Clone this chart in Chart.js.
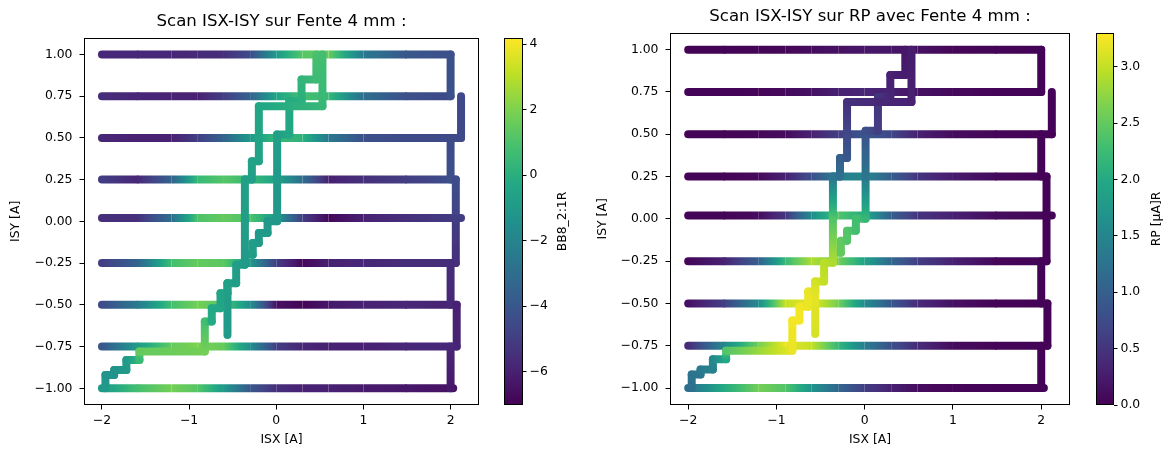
<!DOCTYPE html>
<html lang="fr">
<head>
<meta charset="UTF-8">
<title>Scan ISX-ISY</title>
<script src="https://cdn.jsdelivr.net/npm/chart.js@4.4.1/dist/chart.umd.min.js"></script>
<style>
  body { margin: 0; background: white; }
  #wrap { position: relative; width: 1166px; height: 450px; }
  .c { position: absolute; top: 0; height: 450px; }
</style>
</head>
<body>
<div id="wrap">
  <div class="c" style="left:0;width:484px"><canvas id="scan1"></canvas></div>
  <div class="c" style="left:480px;width:110px"><canvas id="cbar1"></canvas></div>
  <div class="c" style="left:590px;width:485px"><canvas id="scan2"></canvas></div>
  <div class="c" style="left:1073px;width:93px"><canvas id="cbar2"></canvas></div>
</div>
<script>
// scan rows (ISY levels), sampled along ISX
const rowY = [-1.0, -0.75, -0.5, -0.25, 0.02, 0.25, 0.5, 0.75, 1.0];
const rowX = [-2.0, -1.6, -1.2, -0.9, -0.6, -0.3, 0.0, 0.3, 0.6, 1.0, 1.5];
const rowEnd = [2.03, 2.07, 2.07, 2.06, 2.12, 2.06, 2.12, 2.0, 2.0];

const bb8Rows = [
  [-1.0, 0.8, 1.8, 1.2, -1.0, -4.0, -5.5, -6.0, -6.0, -6.2, -6.3, -6.5],
  [-4.0, -1.0, 1.5, 2.0, 1.5, -1.5, -5.0, -5.8, -6.0, -6.0, -5.8, -5.8],
  [-4.5, -2.5, 0.8, 1.8, 1.2, -1.5, -6.5, -6.9, -6.3, -6.0, -5.8, -6.0],
  [-5.0, -3.5, 0.8, 1.5, 1.3, -1.0, -5.0, -6.8, -6.0, -5.8, -5.6, -5.6],
  [-5.5, -5.5, -3.0, 1.0, 1.5, 1.0, -1.0, -5.0, -6.8, -6.0, -5.5, -5.0],
  [-5.0, -5.8, -3.5, 0.5, 1.2, 0.5, -0.5, -3.0, -6.0, -5.5, -5.0, -4.3],
  [-5.8, -6.0, -6.0, -5.0, -3.5, -1.0, 0.5, 0.2, -2.5, -4.3, -4.5, -4.5],
  [-5.6, -5.8, -5.9, -6.0, -5.0, -3.5, -0.5, 0.8, 0.5, -3.0, -4.3, -4.5],
  [-5.8, -5.8, -5.8, -5.7, -5.5, -4.5, -1.0, 1.2, 1.6, -2.5, -4.0, -4.3]
];
const rpRows = [
  [1.2, 2.0, 2.6, 2.4, 1.7, 1.1, 0.6, 0.3, 0.1, 0.05, 0.02, 0.02],
  [0.4, 1.5, 2.6, 3.2, 3.0, 2.2, 1.4, 0.8, 0.4, 0.1, 0.03, 0.02],
  [0.15, 0.6, 1.6, 3.0, 3.2, 2.6, 1.6, 0.9, 0.4, 0.15, 0.03, 0.02],
  [0.05, 0.3, 1.0, 2.2, 2.9, 2.6, 1.9, 1.1, 0.6, 0.3, 0.05, 0.02],
  [0.03, 0.03, 0.1, 0.5, 1.6, 2.4, 2.0, 1.0, 0.5, 0.3, 0.1, 0.05],
  [0.03, 0.03, 0.08, 0.3, 0.8, 1.4, 1.5, 1.0, 0.5, 0.25, 0.08, 0.03],
  [0.03, 0.03, 0.05, 0.1, 0.3, 0.6, 0.9, 0.7, 0.3, 0.1, 0.05, 0.03],
  [0.03, 0.03, 0.05, 0.08, 0.15, 0.3, 0.35, 0.3, 0.15, 0.08, 0.03, 0.03],
  [0.02, 0.02, 0.03, 0.05, 0.1, 0.15, 0.2, 0.2, 0.15, 0.05, 0.03, 0.02]
];

// right-hand steps between rows i and i+1
const edgeX = [2.0, 2.07, 2.0, 2.06, 2.06, 2.0, 2.12, 2.0];
const bb8EdgeLo = [-6.3, -5.9, -5.8, -5.5, -4.8, -4.3, -4.5, -4.3];
const bb8EdgeHi = [-5.8, -6.0, -5.6, -5.0, -4.4, -4.5, -4.6, -4.3];
const rpEdgeLo = [0.02, 0.02, 0.02, 0.02, 0.02, 0.02, 0.02, 0.02];
const rpEdgeHi = [0.02, 0.02, 0.02, 0.02, 0.02, 0.02, 0.02, 0.02];

// staircase through the middle
const stairX = [-1.96, -1.96, -1.86, -1.86, -1.72, -1.72, -1.57, -1.57, -0.82, -0.82, -0.74, -0.74, -0.64, -0.64,
  -0.56, -0.56, -0.46, -0.46, -0.36, -0.36, -0.36, -0.28, -0.28, -0.2, -0.2, 0.53, 0.53];
const stairY = [-1.0, -0.92, -0.92, -0.89, -0.89, -0.83, -0.83, -0.78, -0.78, -0.6, -0.6, -0.52, -0.52, -0.43,
  -0.43, -0.37, -0.37, -0.26, -0.26, 0.0, 0.25, 0.25, 0.36, 0.36, 0.69, 0.69, 1.0];
const bb8Stair = [-1.0, -1.2, -1.3, -1.3, -1.0, -1.0, 0.5, 1.5, 1.8, 0.8, -0.2, -0.3, -0.4, -0.5,
  -0.7, -0.7, -0.8, -0.8, -1.0, -0.8, -0.7, -0.7, -0.6, -0.6, -0.4, 0.4, 0.8];
const rpStair = [1.2, 1.25, 1.3, 1.35, 1.45, 1.55, 2.0, 2.4, 3.2, 3.25, 3.25, 3.25, 3.2, 3.2,
  3.15, 3.1, 3.0, 2.95, 2.9, 2.4, 1.3, 1.2, 1.0, 0.9, 0.45, 0.3, 0.25];

const spurX = [-0.56, -0.56];
const spurY = [-0.68, -0.37];
const bb8Spur = [-1.0, -0.8];
const rpSpur = [3.1, 3.2];

const tailX = [-0.36, -0.27, -0.27, -0.2, -0.2, -0.1, -0.1, 0.01, 0.01, 0.01, 0.15, 0.15, 0.29, 0.29, 0.46, 0.46];
const tailY = [-0.2, -0.2, -0.13, -0.13, -0.07, -0.07, 0.0, 0.0, 0.25, 0.52, 0.52, 0.72, 0.72, 0.85, 0.85, 1.0];
const bb8Tail = [-0.8, -0.8, -0.9, -0.9, -1.0, -1.0, -1.1, -1.1, -1.0, -0.7, -0.4, -0.2, 0.0, 0.3, 0.6, 0.9];
const rpTail = [2.6, 2.5, 2.5, 2.4, 2.4, 2.3, 2.3, 2.2, 1.3, 0.8, 0.6, 0.5, 0.35, 0.3, 0.25, 0.2];

const xTicks = [-2, -1, 0, 1, 2];
const yTicks = [-1, -0.75, -0.5, -0.25, 0, 0.25, 0.5, 0.75, 1];
const bb8Ticks = [-6, -4, -2, 0, 2, 4];
const rpTicks = [0, 0.5, 1, 1.5, 2, 2.5, 3];
const bb8Range = [-7.02, 4.19];
const rpRange = [0, 3.3];

const viridis = ['#440154', '#482475', '#414487', '#355f8d', '#2a788e', '#21918c',
  '#22a884', '#44bf70', '#7ad151', '#bddf26', '#fde725'];
const vRGB = viridis.map(h => [1, 3, 5].map(i => parseInt(h.substr(i, 2), 16)));

function cmap(t) {
  t = Math.min(1, Math.max(0, t)) * (vRGB.length - 1);
  const i = Math.min(vRGB.length - 2, Math.floor(t)), f = t - i;
  const c = vRGB[i].map((a, k) => Math.round(a + (vRGB[i + 1][k] - a) * f));
  return `rgb(${c[0]},${c[1]},${c[2]})`;
}

const minus = s => String(s).replace('-', '\u2212');
const font = { family: 'DejaVu Sans', size: 12.4 };

function segGradient(range) {
  return c => {
    const vals = c.chart.data.datasets[c.datasetIndex].vals;
    const v0 = vals[c.p0DataIndex], v1 = vals[c.p1DataIndex];
    const g = c.chart.ctx.createLinearGradient(c.p0.x, c.p0.y, c.p1.x, c.p1.y);
    for (let k = 0; k <= 6; k++) {
      const v = v0 + (v1 - v0) * k / 6;
      g.addColorStop(k / 6, cmap((v - range[0]) / (range[1] - range[0])));
    }
    return g;
  };
}

// straight rows: flat joins inside, round only at the two ends
function segCap(c) {
  const ds = c.chart.data.datasets[c.datasetIndex];
  if (!ds.straight) return 'round';
  return (c.p0DataIndex === 0 || c.p1DataIndex === ds.data.length - 1) ? 'round' : 'butt';
}

function path(xs, ys, vals, range, order, straight) {
  return {
    data: xs.map((x, i) => ({ x: x, y: ys[i] })),
    vals: vals,
    straight: !!straight,
    showLine: true,
    pointRadius: 0,
    borderWidth: 8,
    borderCapStyle: 'round',
    borderJoinStyle: 'round',
    order: order,
    segment: {
      borderColor: segGradient(range),
      borderCapStyle: segCap,
      borderDashOffset: c => c.p0DataIndex
    }
  };
}

function buildSets(rows, edgeLo, edgeHi, stair, spur, tail, range) {
  const sets = [];
  sets.push(path(stairX, stairY, stair, range, 1));
  sets.push(path(spurX, spurY, spur, range, 1));
  sets.push(path(tailX, tailY, tail, range, 1));
  edgeX.forEach((x, i) => {
    sets.push(path([x, x], [rowY[i], rowY[i + 1]], [edgeLo[i], edgeHi[i]], range, 2));
  });
  rowY.forEach((y, r) => {
    const xs = rowX.concat([rowEnd[r]]);
    sets.push(path(xs, xs.map(() => y), rows[r], range, 3, true));
  });
  return sets;
}

const frame = {
  id: 'frame',
  afterDraw(chart) {
    const { ctx, chartArea: a } = chart;
    ctx.save();
    ctx.strokeStyle = '#000';
    ctx.lineWidth = 1;
    ctx.strokeRect(Math.round(a.left) + 0.5, Math.round(a.top) + 0.5,
      Math.round(a.right - a.left) - 1, Math.round(a.bottom - a.top) - 1);
    ctx.restore();
  }
};

const cbLabel = {
  id: 'cbLabel',
  afterDraw(chart, args, opts) {
    const { ctx, chartArea: a } = chart;
    ctx.save();
    ctx.translate(opts.x, (a.top + a.bottom) / 2);
    ctx.rotate(-Math.PI / 2);
    ctx.font = '12.4px "DejaVu Sans"';
    ctx.fillStyle = '#000';
    ctx.textAlign = 'center';
    ctx.textBaseline = 'middle';
    ctx.fillText(opts.text, 0, 0);
    ctx.restore();
  }
};

function scanChart(id, title, titleTop, yAxisWidth, yTitlePad, sets) {
  return new Chart(document.getElementById(id), {
    type: 'scatter',
    data: { datasets: sets },
    options: {
      responsive: true,
      maintainAspectRatio: false,
      animation: false,
      layout: { padding: { left: 0, right: 5, top: 0, bottom: 0 } },
      plugins: {
        legend: { display: false },
        tooltip: { enabled: false },
        title: {
          display: true, text: title, fullSize: false, color: '#000',
          font: { family: 'DejaVu Sans', size: 16.6, weight: 'normal' },
          padding: { top: titleTop, bottom: 5.8 }
        }
      },
      scales: {
        x: {
          min: -2.206, max: 2.326,
          afterBuildTicks: s => { s.ticks = xTicks.map(v => ({ value: v })); },
          afterFit: s => { s.height = 45; },
          ticks: { font: font, color: '#000', padding: 4, maxRotation: 0, callback: v => minus(v) },
          grid: { drawOnChartArea: false, drawTicks: true, tickLength: 4.5, tickColor: '#000' },
          border: { display: false },
          title: { display: true, text: 'ISX [A]', font: font, color: '#000', padding: { top: 0, bottom: 3 } }
        },
        y: {
          min: -1.1, max: 1.1,
          afterBuildTicks: s => { s.ticks = yTicks.map(v => ({ value: v })); },
          afterFit: s => { s.width = yAxisWidth; },
          ticks: { font: font, color: '#000', padding: 7, callback: v => minus(v.toFixed(2)) },
          grid: { drawOnChartArea: false, drawTicks: true, tickLength: 4.5, tickColor: '#000' },
          border: { display: false },
          title: { display: true, text: 'ISY [A]', font: font, color: '#000', padding: { top: yTitlePad, bottom: 0 } }
        }
      }
    },
    plugins: [frame]
  });
}

function colorBar(id, range, ticks, fmt, pad, axisWidth, label, labelX) {
  return new Chart(document.getElementById(id), {
    type: 'bar',
    data: {
      labels: [''],
      datasets: [{
        data: [[range[0], range[1]]],
        barPercentage: 1,
        categoryPercentage: 1,
        backgroundColor: c => {
          const ch = c.chart;
          if (!ch.chartArea) return viridis[5];
          const ys = ch.scales.y;
          const g = ch.ctx.createLinearGradient(0, ys.getPixelForValue(range[0]), 0, ys.getPixelForValue(range[1]));
          viridis.forEach((col, i) => g.addColorStop(i / (viridis.length - 1), col));
          return g;
        }
      }]
    },
    options: {
      responsive: true,
      maintainAspectRatio: false,
      animation: false,
      layout: { padding: pad },
      plugins: {
        legend: { display: false },
        tooltip: { enabled: false },
        cbLabel: { text: label, x: labelX }
      },
      scales: {
        x: { display: false },
        y: {
          position: 'right',
          min: range[0], max: range[1],
          afterBuildTicks: s => { s.ticks = ticks.map(v => ({ value: v })); },
          afterFit: s => { s.width = axisWidth; },
          ticks: { font: font, color: '#000', padding: 3, callback: fmt },
          grid: { drawOnChartArea: false, drawTicks: true, tickLength: 3.5, tickColor: '#000' },
          border: { display: false }
        }
      }
    },
    plugins: [frame, cbLabel]
  });
}

scanChart('scan1', 'Scan ISX-ISY sur Fente 4 mm :', 12, 84, 8,
  buildSets(bb8Rows, bb8EdgeLo, bb8EdgeHi, bb8Stair, bb8Spur, bb8Tail, bb8Range));
scanChart('scan2', 'Scan ISX-ISY sur RP avec Fente 4 mm :', 7, 80, 5,
  buildSets(rpRows, rpEdgeLo, rpEdgeHi, rpStair, rpSpur, rpTail, rpRange));

colorBar('cbar1', bb8Range, bb8Ticks, v => minus(v), { left: 24, right: 0, top: 38, bottom: 45 }, 67, 'BB8_2:1R', 83);
colorBar('cbar2', rpRange, rpTicks, v => v.toFixed(1), { left: 23, right: 0, top: 33, bottom: 45 }, 52, 'RP [\u00b5A]R', 84);
</script>
</body>
</html>
